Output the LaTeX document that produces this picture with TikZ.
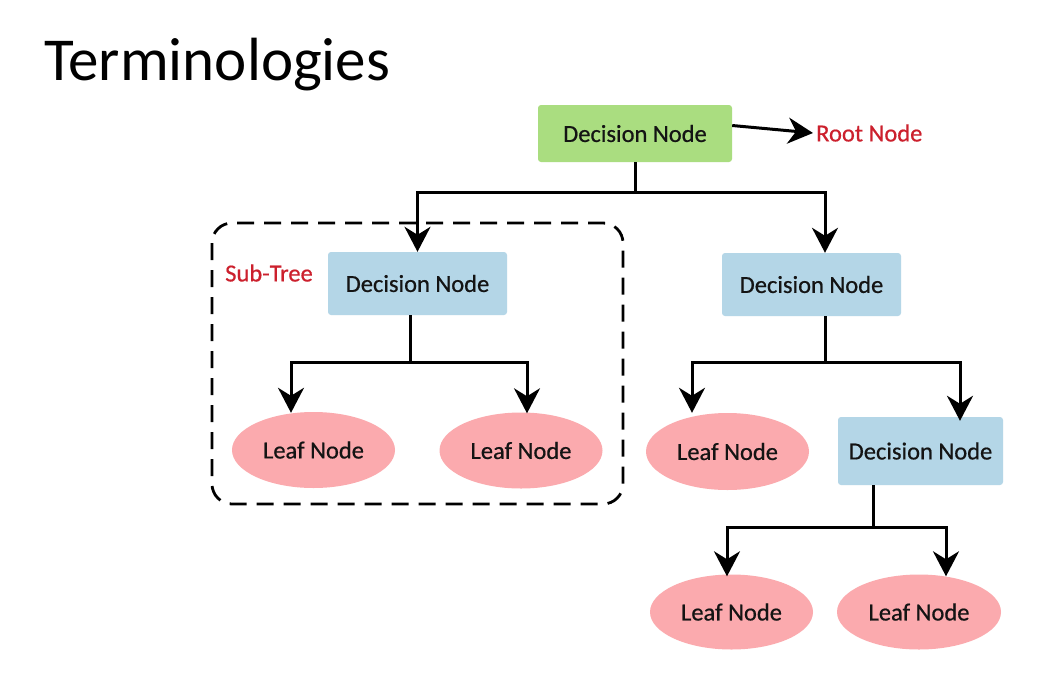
\documentclass[tikz,border=0pt]{standalone}
\usepackage{fontspec}
\setmainfont{Carlito}
\newfontfamily\nodefont[FakeBold=0.6]{Carlito}
\usetikzlibrary{shapes.geometric,arrows.meta}
\definecolor{rootgreen}{RGB}{170,221,128}
\definecolor{nodeblue}{RGB}{180,214,231}
\definecolor{leafpink}{RGB}{251,170,174}
\definecolor{lblred}{RGB}{204,32,45}
\definecolor{txt}{RGB}{20,20,20}
\tikzset{
  dbox/.style={rectangle, rounded corners=3pt, inner sep=0pt, text=txt, font=\nodefont\fontsize{24.5}{28}\selectfont},
  leafnode/.style={ellipse, fill=leafpink, inner sep=0pt, minimum width=163pt, minimum height=76pt, text=txt, font=\nodefont\fontsize{24.5}{28}\selectfont},
  lbl/.style={text=lblred, inner sep=0pt, font=\nodefont\fontsize{24.5}{28}\selectfont},
  conn/.style={line width=3pt, draw=black},
  arr/.style={conn, -{Stealth[length=25pt,width=26pt,inset=8pt]}},
}
\begin{document}
\begin{tikzpicture}[x=1pt,y=-1pt]
\useasboundingbox (0,0) rectangle (1057,683);
\fill[white] (0,0) rectangle (1057,683);
\node[anchor=base west, inner sep=0pt, text=black, font=\fontsize{61}{66}\selectfont] (title) at (44,80) {Terminologies};

% subtree frame
\draw[line width=2.8pt, dash pattern=on 17pt off 10pt, rounded corners=20pt] (212,223) rectangle (623,504);
\node[lbl] (subtree) at (269,273) {Sub-Tree};

% nodes
\node[dbox, fill=rootgreen, minimum width=194pt, minimum height=57pt] (root) at (635,133.5) {Decision Node};
\node[lbl, anchor=west] (rootlbl) at (816,133) {Root Node};
\node[dbox, fill=nodeblue, minimum width=179pt, minimum height=63pt] (dl) at (417.5,283.5) {Decision Node};
\node[dbox, fill=nodeblue, minimum width=179pt, minimum height=63pt] (dr) at (811.5,284.5) {Decision Node};
\node[dbox, fill=nodeblue, minimum width=165pt, minimum height=68pt] (dr2) at (920.5,451) {Decision Node};
\node[leafnode] (l1) at (313.5,450) {Leaf Node};
\node[leafnode] (l2) at (521,450.5) {Leaf Node};
\node[leafnode, minimum height=77pt] (r1) at (727.5,451.5) {Leaf Node};
\node[leafnode, minimum height=75pt] (b1) at (731.5,612) {Leaf Node};
\node[leafnode, minimum width=164pt, minimum height=75pt] (b2) at (919,612) {Leaf Node};

% connectors
\draw[arr] ([yshift=8pt]root.east) -- ([xshift=-3pt]rootlbl.west);
\draw[conn] (root.south) -- (root.south |- 0,192);
\draw[arr] (root.south |- 0,192) -| (dl.north);
\draw[arr] (root.south |- 0,192) -| ([xshift=13.5pt]dr.north);

\draw[conn] ([xshift=-7.5pt]dl.south) -- (410,362);
\draw[arr] (410,362) -| ([xshift=-22.5pt,yshift=-1pt]l1.north);
\draw[arr] (410,362) -| ([xshift=6pt,yshift=-1pt]l2.north);

\draw[conn] ([xshift=13.5pt]dr.south) -- (825,362);
\draw[arr] (825,362) -| ([xshift=-35.5pt]r1.north);
\draw[arr] (825,362) -| ([xshift=39.5pt,yshift=-4pt]dr2.north);

\draw[conn] ([xshift=-47.5pt]dr2.south) -- (873,527);
\draw[arr] (873,527) -| ([xshift=-4.5pt,yshift=-2pt]b1.north);
\draw[arr] (873,527) -| ([xshift=27pt,yshift=-2pt]b2.north);
\end{tikzpicture}
\end{document}
